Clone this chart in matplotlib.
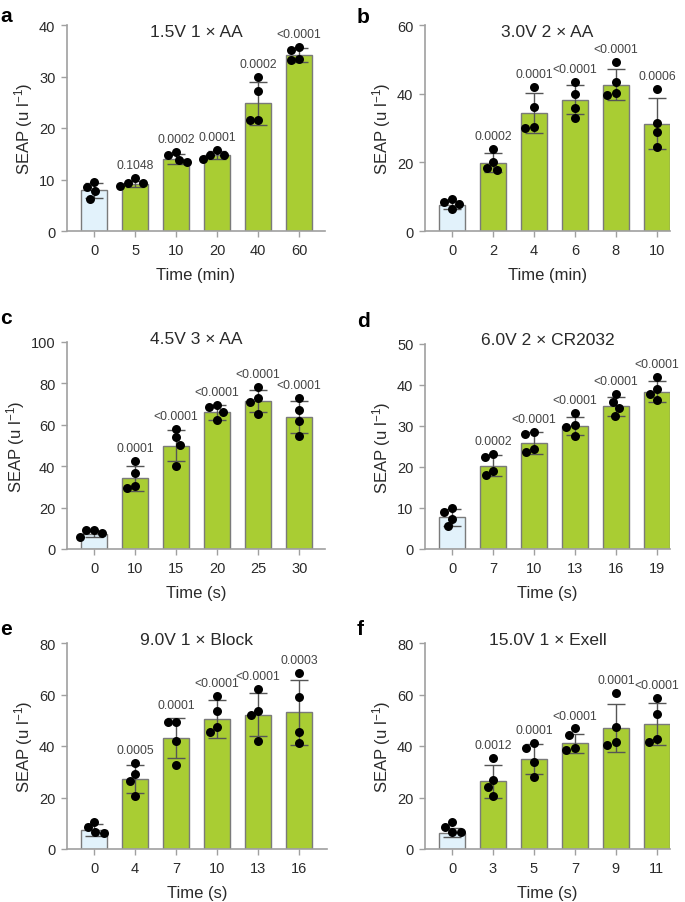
import numpy as np
import matplotlib.pyplot as plt

plt.rcParams['font.family'] = ['Liberation Sans', 'DejaVu Sans']
plt.rcParams['mathtext.fontset'] = 'custom'
plt.rcParams['mathtext.rm'] = 'Liberation Sans'
plt.rcParams['mathtext.it'] = 'Liberation Sans:italic'

# ---- data ----
titles = ['1.5V 1 × AA', '3.0V 2 × AA', '4.5V 3 × AA',
          '6.0V 2 × CR2032', '9.0V 1 × Block', '15.0V 1 × Exell']
letters = ['a', 'b', 'c', 'd', 'e', 'f']
xlabels = ['Time (min)', 'Time (min)', 'Time (s)', 'Time (s)', 'Time (s)', 'Time (s)']
ymaxes = [40, 60, 100, 50, 80, 80]
ysteps = [10, 20, 20, 10, 20, 20]

times_a = ['0', '5', '10', '20', '40', '60']
times_b = ['0', '2', '4', '6', '8', '10']
times_c = ['0', '10', '15', '20', '25', '30']
times_d = ['0', '7', '10', '13', '16', '19']
times_e = ['0', '4', '7', '10', '13', '16']
times_f = ['0', '3', '5', '7', '9', '11']

mean_a = [7.9, 9.2, 14.0, 14.7, 24.8, 34.2]
sd_a = [1.4, 0.6, 0.9, 0.8, 4.2, 1.3]
pts_a = [[9.5, 8.5, 7.7, 6.3], [10.3, 9.4, 9.4, 8.7], [15.3, 14.8, 13.7, 13.4],
         [15.8, 14.8, 14.7, 14.0], [29.9, 27.1, 21.6, 21.6], [35.7, 35.2, 33.4, 33.2]]
p_a = ['', '0.1048', '0.0002', '0.0001', '0.0002', '<0.0001']

mean_b = [7.6, 19.9, 34.3, 38.2, 42.6, 31.2]
sd_b = [1.2, 2.8, 5.8, 4.2, 4.5, 7.4]
pts_b = [[9.4, 8.4, 7.9, 6.5], [23.9, 20.1, 18.3, 17.9], [41.9, 36.0, 30.2, 29.9],
         [43.5, 39.9, 35.9, 32.8], [49.1, 43.3, 40.1, 39.7], [41.4, 31.5, 28.8, 24.4]]
p_b = ['', '0.0002', '0.0001', '<0.0001', '<0.0001', '0.0006']

mean_c = [7.3, 34.2, 50.0, 66.1, 71.3, 63.7]
sd_c = [1.5, 6.1, 7.5, 3.6, 5.3, 7.6]
pts_c = [[9.2, 9.2, 7.6, 6.0], [42.3, 36.6, 30.6, 29.4], [58.1, 54.0, 50.3, 40.3],
         [69.4, 68.5, 66.1, 62.1], [78.2, 72.9, 71.0, 65.3], [72.9, 67.3, 61.6, 54.8]]
p_c = ['', '0.0001', '<0.0001', '<0.0001', '<0.0001', '<0.0001']

mean_d = [7.7, 20.3, 25.9, 30.1, 34.8, 38.4]
sd_d = [2.0, 2.6, 2.7, 2.2, 2.3, 2.6]
pts_d = [[9.9, 9.1, 7.3, 5.5], [23.1, 22.4, 19.1, 18.0], [28.6, 28.0, 24.4, 23.6],
         [33.1, 30.2, 29.7, 27.6], [37.8, 35.8, 34.3, 32.5], [42.0, 39.0, 37.8, 36.3]]
p_d = ['', '0.0002', '<0.0001', '<0.0001', '<0.0001', '<0.0001']

mean_e = [7.5, 27.2, 43.1, 50.5, 52.2, 53.1]
sd_e = [2.3, 5.4, 7.8, 7.4, 8.2, 12.6]
pts_e = [[10.6, 8.4, 6.7, 6.2], [33.3, 29.1, 26.3, 20.5], [49.2, 49.2, 42.1, 32.6],
         [59.5, 53.7, 47.4, 45.3], [62.1, 53.7, 52.0, 42.1], [68.3, 59.2, 45.3, 41.0]]
p_e = ['', '0.0005', '0.0001', '<0.0001', '<0.0001', '0.0003']

mean_f = [6.4, 26.3, 35.1, 41.0, 47.1, 48.5]
sd_f = [1.9, 6.4, 5.8, 3.8, 9.4, 8.1]
pts_f = [[10.4, 8.7, 6.7, 6.7], [35.4, 26.9, 24.1, 20.5], [41.0, 39.3, 33.8, 28.0],
         [46.8, 44.2, 39.4, 38.4], [60.7, 47.5, 41.4, 40.3], [58.5, 52.3, 42.9, 41.4]]
p_f = ['', '0.0012', '0.0001', '<0.0001', '0.0001', '<0.0001']

times = [times_a, times_b, times_c, times_d, times_e, times_f]
means = [mean_a, mean_b, mean_c, mean_d, mean_e, mean_f]
sds = [sd_a, sd_b, sd_c, sd_d, sd_e, sd_f]
points = [pts_a, pts_b, pts_c, pts_d, pts_e, pts_f]
pvals = [p_a, p_b, p_c, p_d, p_e, p_f]

# ---- layout (pixels of a 685x903 canvas) ----
W, H = 685, 903
boxes = [(67, 26, 325, 232), (425, 26, 670, 232),
         (67, 343, 325, 550), (425, 345, 670, 550),
         (67, 644, 327, 850), (425, 644, 670, 850)]
xright = [5.63, 5.32, 5.63, 5.32, 5.68, 5.32]
title_base = [37, 37, 344, 345, 645, 645]
letter_pos = [(0, 22), (357, 23), (0, 324), (357, 327), (0, 635), (357, 635)]

green = '#a9cd33'
blue = '#e2f2fb'
edge = '#7a7a7a'
spine = '#a0a0a0'
txt = '#2a2a2a'
diam = 8.5  # marker diameter in px


def swarm(ax, x0, vals):
    # simple beeswarm: nudge points sideways until they stop overlapping
    tr = ax.transData
    placed = []
    out = []
    for v in vals:
        px, py = tr.transform((x0, v))
        best = None
        for step in np.arange(0, 40, 0.5):
            for dx in ((-step, step) if step else (0,)):
                if all(np.hypot(px + dx - qx, py - qy) >= diam for qx, qy in placed):
                    best = dx
                    break
            if best is not None:
                break
        placed.append((px + best, py))
        out.append(tr.inverted().transform((px + best, py))[0])
    return out


fig = plt.figure(figsize=(W / 100, H / 100), dpi=100)

for i in range(6):
    l, t, r, b = boxes[i]
    ax = fig.add_axes([l / W, 1 - b / H, (r - l) / W, (b - t) / H])
    x = np.arange(len(times[i]))
    colors = [blue] + [green] * (len(x) - 1)
    ax.bar(x, means[i], width=0.64, color=colors, edgecolor=edge, linewidth=1.0, zorder=2)
    ax.errorbar(x, means[i], yerr=sds[i], fmt='none', ecolor='#555555', elinewidth=1.0,
                capsize=6.5, capthick=1.0, zorder=3)
    ax.set_xlim(-0.66, xright[i])
    ax.set_ylim(0, ymaxes[i])
    ax.set_yticks(np.arange(0, ymaxes[i] + 1, ysteps[i]))
    ax.set_xticks(x)
    ax.set_xticklabels(times[i])
    for j in x:
        xs = swarm(ax, j, points[i][j])
        ax.scatter(xs, points[i][j], s=42, color='black', zorder=4, linewidths=0, clip_on=False)
        if pvals[i][j]:
            top = max(max(points[i][j]), means[i][j] + sds[i][j])
            ax.annotate(pvals[i][j], (j, top), xytext=(0, 5), textcoords='offset points',
                        ha='center', va='bottom', fontsize=8.7, color='#444444')
    for s in ['top', 'right']:
        ax.spines[s].set_visible(False)
    for s in ['left', 'bottom']:
        ax.spines[s].set_color(spine)
        ax.spines[s].set_linewidth(1.2)
    ax.tick_params(colors=spine, labelcolor=txt, labelsize=10.5, length=4.3, width=1.0)
    ax.tick_params(axis='x', pad=4.5)
    ax.tick_params(axis='y', pad=4)
    ax.set_ylabel('SEAP (u l$^{-1}$)', fontsize=12, color=txt, labelpad=3)
    ax.set_xlabel(xlabels[i], fontsize=12, color=txt, labelpad=7)
    fig.text((l + r) / 2 / W, 1 - title_base[i] / H, titles[i], ha='center', va='baseline',
             fontsize=12.5, color=txt)
    lx, ly = letter_pos[i]
    fig.text(lx / W, 1 - ly / H, letters[i], ha='left', va='baseline', fontsize=15,
             fontweight='bold', color='black')

fig.savefig('out.png', dpi=100, facecolor='white')
